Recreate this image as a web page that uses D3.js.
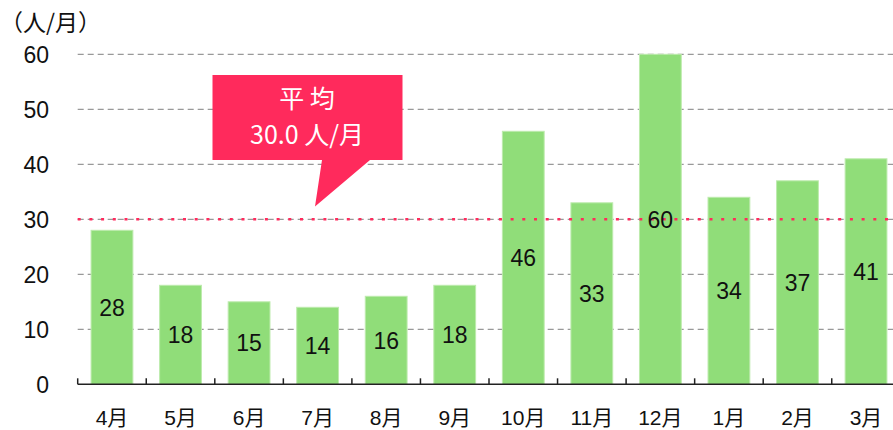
<!DOCTYPE html>
<html>
<head>
<meta charset="utf-8">
<script src="https://cdn.jsdelivr.net/npm/d3@7"></script>
<style>
  html, body { margin: 0; padding: 0; background: #fff; }
  svg { display: block; }
</style>
</head>
<body>
<svg id="chart" width="893" height="430"></svg>
<script>
// Monthly visitor counts (人/月), fiscal year April → March
const months = ["4月", "5月", "6月", "7月", "8月", "9月", "10月", "11月", "12月", "1月", "2月", "3月"];
const visitors = [28, 18, 15, 14, 16, 18, 46, 33, 60, 34, 37, 41];
const yTicks = [0, 10, 20, 30, 40, 50, 60];
const average = 30.0;
const unitLabel = "（人/月）";
const calloutLines = ["平 均", "30.0 人/月"];

const svg = d3.select("#chart");
const numFont = "'Liberation Sans', Arial, 'Noto Sans CJK JP', sans-serif";
const cjkFont = "'Noto Sans CJK JP', sans-serif";

const left = 77.7, step = 68.55;
const x = d3.scaleBand()
  .domain(months)
  .range([left, left + step * months.length])
  .paddingInner(0.39)
  .paddingOuter(0.195);

const y = d3.scaleLinear().domain([0, 60]).range([384.3, 54.3]);

// horizontal dashed gridlines
svg.append("g")
  .selectAll("line")
  .data(yTicks.filter(d => d > 0))
  .join("line")
  .attr("x1", left).attr("x2", 893)
  .attr("y1", d => y(d)).attr("y2", d => y(d))
  .attr("stroke", "#999").attr("stroke-width", 1.2)
  .attr("stroke-dasharray", "6,4");

// y tick labels (no axis line)
const yAxis = d3.axisLeft(y).tickValues(yTicks).tickSize(0).tickPadding(0);
const gy = svg.append("g").attr("transform", "translate(49,0)").call(yAxis);
gy.select(".domain").remove();
gy.selectAll("text")
  .attr("font-family", numFont)
  .attr("font-size", 23)
  .attr("fill", "#111")
  .attr("dy", "0.36em");

// bars
svg.append("g")
  .selectAll("rect")
  .data(visitors)
  .join("rect")
  .attr("x", (d, i) => x(months[i]))
  .attr("width", x.bandwidth())
  .attr("y", d => y(d))
  .attr("height", d => y(0) - y(d))
  .attr("fill", "#90dd79")
  .attr("stroke", "#bdebad")
  .attr("stroke-width", 1);

// average line: dotted pink markers across the plot
svg.append("line")
  .attr("x1", left).attr("x2", 893)
  .attr("y1", y(average)).attr("y2", y(average))
  .attr("stroke", "#ff2a5c").attr("stroke-width", 2.5)
  .attr("stroke-dasharray", "3,8.7");

// value labels centred in each bar
svg.append("g")
  .selectAll("text")
  .data(visitors)
  .join("text")
  .attr("x", (d, i) => x(months[i]) + x.bandwidth() / 2)
  .attr("y", d => (y(d) + y(0)) / 2)
  .attr("dy", "0.36em")
  .attr("text-anchor", "middle")
  .attr("font-family", numFont)
  .attr("font-size", 23)
  .attr("fill", "#111")
  .text(d => d);

// x axis with inward ticks at category boundaries
const xAxisG = svg.append("g");
xAxisG.append("line")
  .attr("x1", left).attr("x2", 893)
  .attr("y1", y(0)).attr("y2", y(0))
  .attr("stroke", "#222").attr("stroke-width", 1.5);
xAxisG.selectAll("line.tick")
  .data(months)
  .join("line")
  .attr("class", "tick")
  .attr("x1", d => x(d) - x.step() * x.paddingInner() / 2)
  .attr("x2", d => x(d) - x.step() * x.paddingInner() / 2)
  .attr("y1", y(0)).attr("y2", y(0) - 6)
  .attr("stroke", "#222").attr("stroke-width", 1.5);
xAxisG.selectAll("text")
  .data(months)
  .join("text")
  .attr("x", d => x(d) + x.bandwidth() / 2)
  .attr("y", 417)
  .attr("dy", "0.36em")
  .attr("text-anchor", "middle")
  .attr("font-family", numFont)
  .attr("font-size", 21)
  .attr("fill", "#111")
  .text(d => d);

// unit label
svg.append("text")
  .attr("x", 0).attr("y", 23)
  .attr("dy", "0.36em")
  .attr("font-family", cjkFont)
  .attr("font-size", 23)
  .attr("fill", "#111")
  .text(unitLabel);

// speech-bubble callout for the average
const bubble = svg.append("g");
bubble.append("path")
  .attr("d", "M212.5,75 H402.5 V160 H370 L315,206.5 L322,160 H212.5 Z")
  .attr("fill", "#ff2a5c");
bubble.selectAll("text")
  .data(calloutLines)
  .join("text")
  .attr("x", 307)
  .attr("y", (d, i) => 99 + i * 36)
  .attr("dy", "0.36em")
  .attr("text-anchor", "middle")
  .attr("font-family", cjkFont)
  .attr("font-size", 25)
  .attr("fill", "#fff")
  .text(d => d);
</script>
</body>
</html>
